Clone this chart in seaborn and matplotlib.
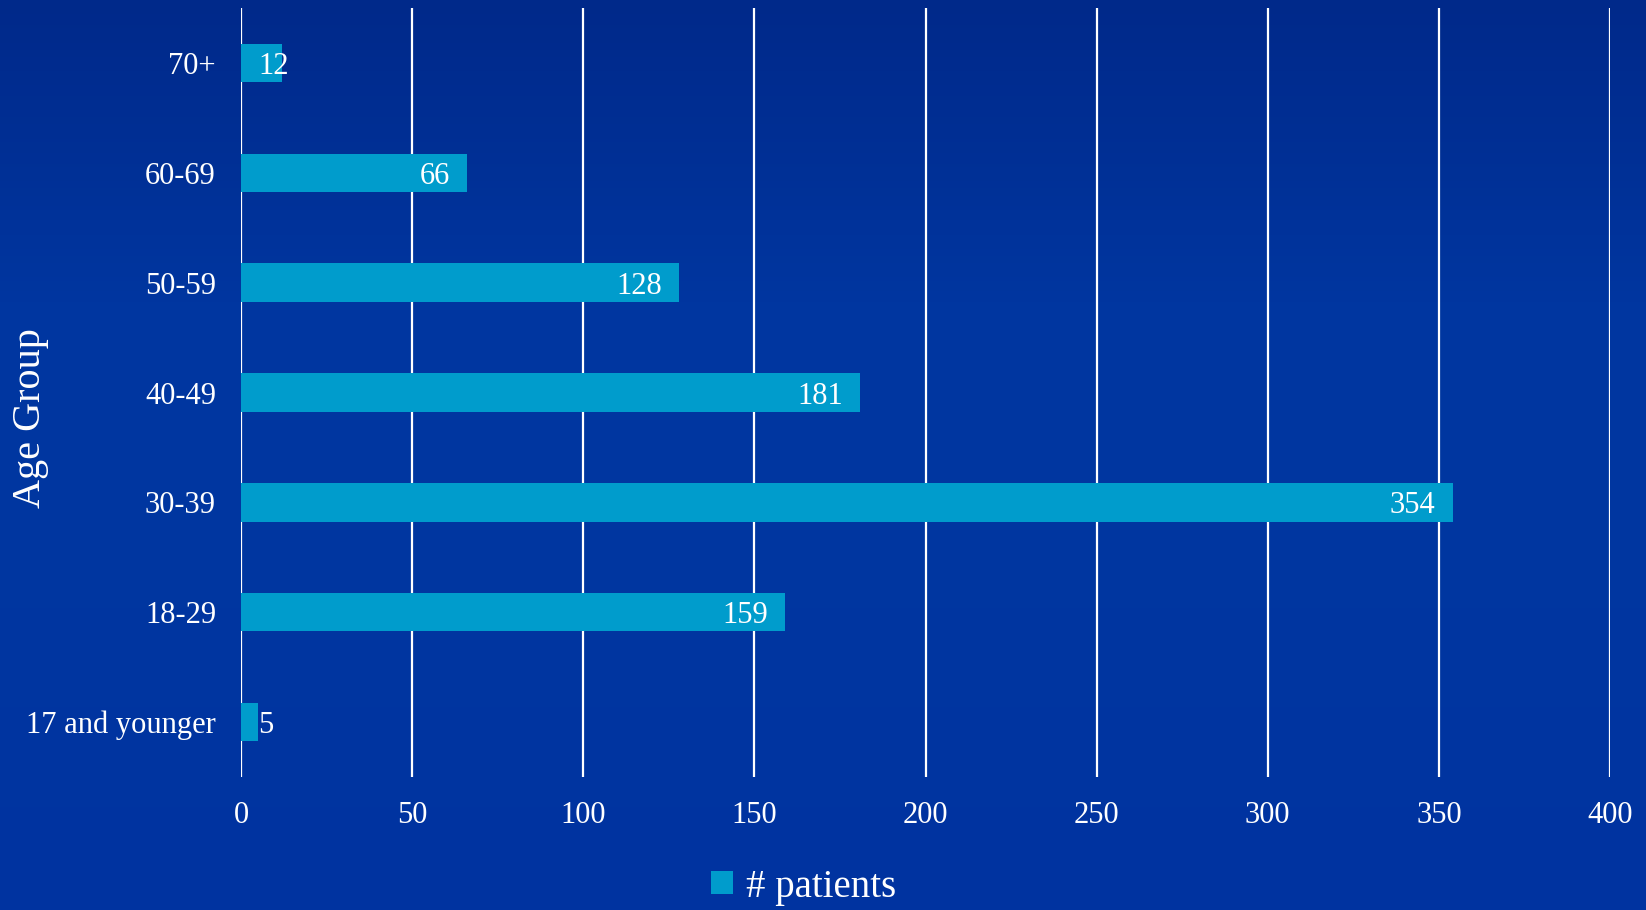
import numpy as np
import pandas as pd
import matplotlib
matplotlib.use("Agg")
import matplotlib.pyplot as plt
from matplotlib.colors import LinearSegmentedColormap
import seaborn as sns

# data, top to bottom as shown
age_groups = ["70+", "60-69", "50-59", "40-49", "30-39", "18-29", "17 and younger"]
patients = [12, 66, 128, 181, 354, 159, 5]
x_ticks = [0, 50, 100, 150, 200, 250, 300, 350, 400]

BAR = "#009ccc"
BG_TOP = "#00298a"
BG_MID = "#0036a0"

W, H = 1646, 910

sns.set_style("white")
plt.rcParams["font.family"] = ["Liberation Serif", "DejaVu Serif"]

df = pd.DataFrame({"age": age_groups, "n": patients})

fig = plt.figure(figsize=(W / 100, H / 100), dpi=100)

# background gradient
bg = fig.add_axes([0, 0, 1, 1], zorder=-10)
cmap = LinearSegmentedColormap.from_list("bg", [BG_TOP, BG_MID, BG_MID, "#0033a0"])
bg.imshow(np.linspace(0, 1, 256).reshape(-1, 1), aspect="auto", cmap=cmap,
          extent=[0, 1, 0, 1])
bg.set_axis_off()

left, right, top, bottom = 241, 1610, 8, 777
ax = fig.add_axes([left / W, 1 - bottom / H, (right - left) / W, (bottom - top) / H])
ax.patch.set_alpha(0)

sns.barplot(data=df, x="n", y="age", orient="h", color=BAR, width=0.35,
            saturation=1, ax=ax, label="# patients", linewidth=0, zorder=3)
if ax.get_legend() is not None:
    ax.get_legend().remove()

ax.set_xlim(0, 400)
ax.set_ylim(6.5, -0.5)
ax.set_xticks(x_ticks)
ax.grid(axis="x", color="white", linewidth=1.6, zorder=1)
ax.grid(axis="y", visible=False)
for s in ax.spines.values():
    s.set_visible(False)
ax.tick_params(axis="both", length=0, colors="white", labelsize=22)
ax.tick_params(axis="x", pad=17)
ax.tick_params(axis="y", pad=18)
ax.set_xlabel("")
ax.set_ylabel("")
fig.text(31 / W, 1 - 418 / H, "Age Group", rotation=90, color="white",
         fontsize=29, ha="center", va="center")

# value labels at the inside end of each bar
for i, v in enumerate(patients):
    if v < 20:
        ax.annotate(str(v), (0, i), xytext=(17, 0), textcoords="offset pixels",
                    ha="left", va="center_baseline", color="white", fontsize=22, zorder=5)
    else:
        ax.annotate(str(v), (v, i), xytext=(-17, 0), textcoords="offset pixels",
                    ha="right", va="center_baseline", color="white", fontsize=22, zorder=5)

handles, labels = ax.get_legend_handles_labels()
fig.legend(handles[:1], labels[:1], loc="center", bbox_to_anchor=(804 / W, 1 - 887 / H),
           frameon=False, fontsize=28, handlelength=0.55, handleheight=0.55,
           handletextpad=0.35, labelcolor="white", borderpad=0.1)

fig.savefig("out.png", dpi=100)
